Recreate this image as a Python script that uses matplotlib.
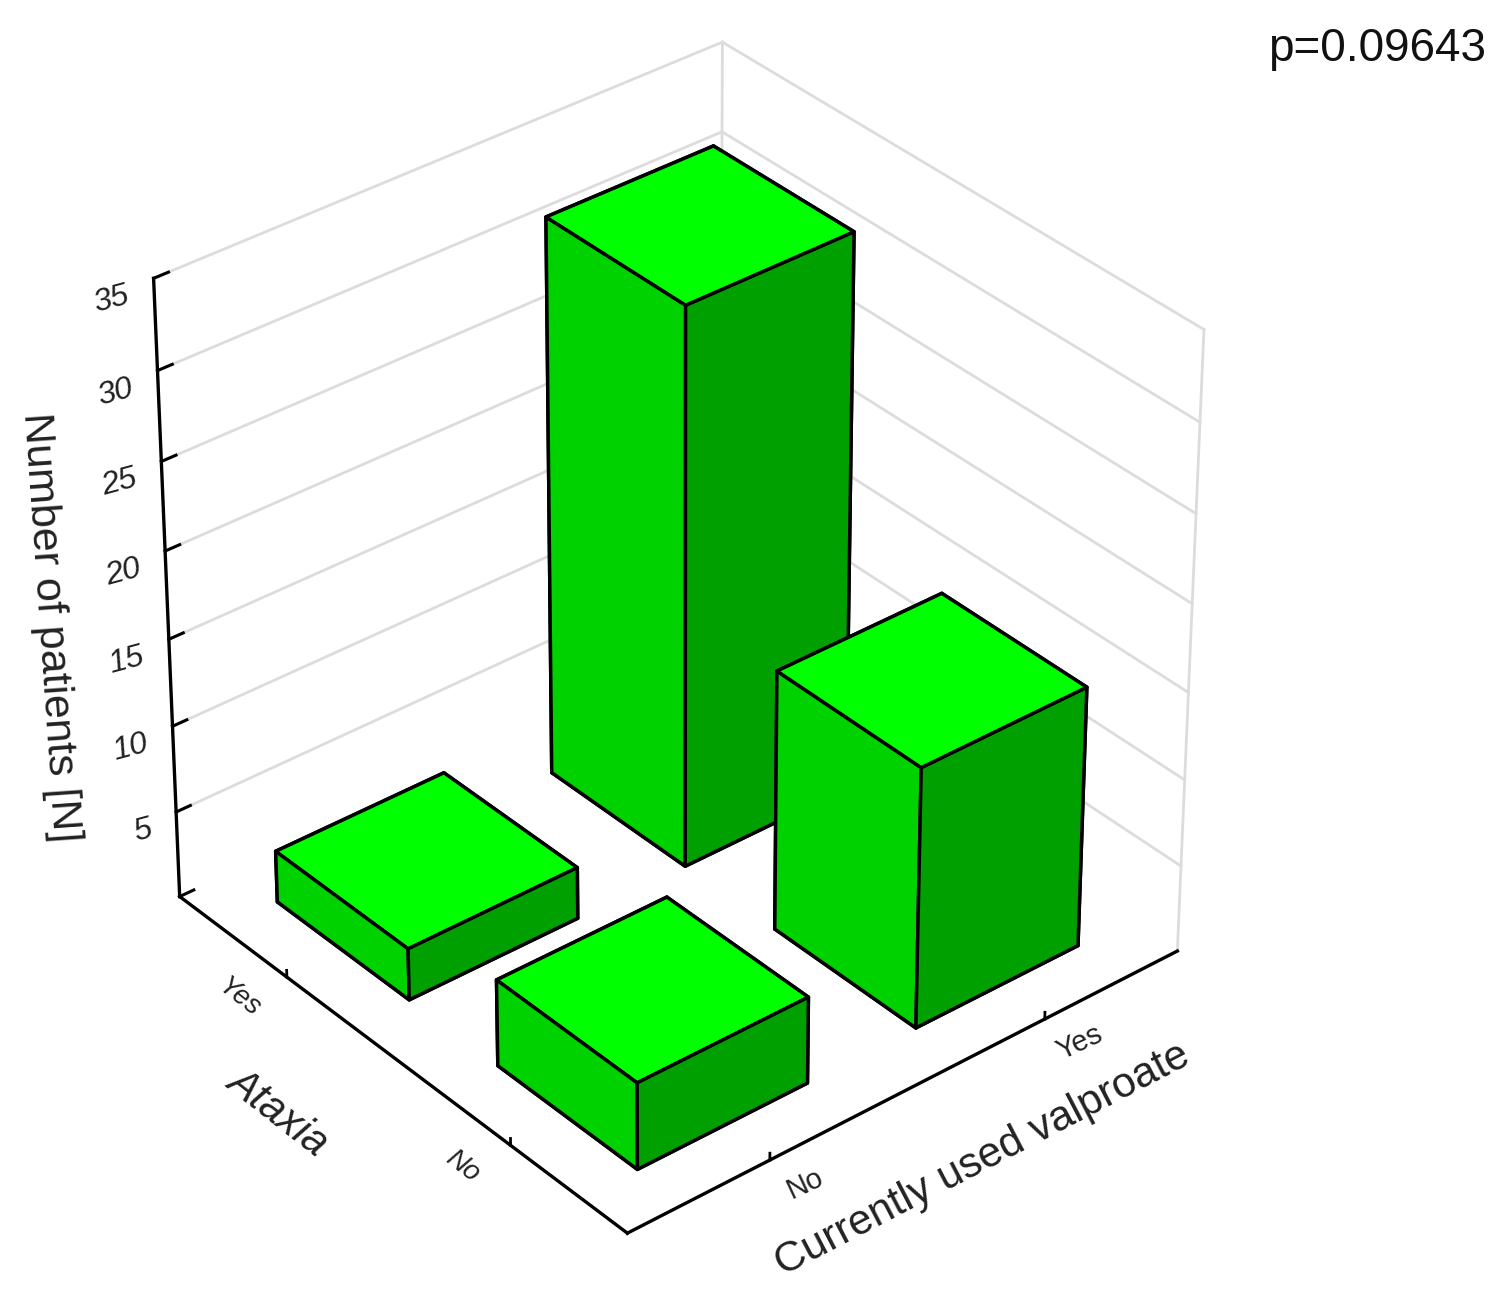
import matplotlib

matplotlib.use("Agg")
import matplotlib.pyplot as plt
from mpl_toolkits.mplot3d import proj3d

plt.rcParams["font.family"] = ["Liberation Sans", "DejaVu Sans"]

valproate_labels = ["No", "Yes"]
ataxia_labels = ["No", "Yes"]
z_ticks = [5, 10, 15, 20, 25, 30, 35]

# patients per ataxia category (No, Yes)
counts_no_valproate = [5, 3]
counts_valproate = [15, 32]

TOP = "#00ff00"
LEFT = "#00d200"
RIGHT = "#00a000"
GRID = "#dcdcdc"
TEXT = "#222222"

Z_MAX = 35
BAR_W = 0.605

fig = plt.figure(figsize=(15.07, 13.02), dpi=100, facecolor="white")
ax = fig.add_axes([-0.063, 0.009, 1.0, 1.0], projection="3d", computed_zorder=False)
ax.set_proj_type("persp", focal_length=1.15)
ax.view_init(elev=33.9, azim=-129.7)
ax.set_xlim(0, 2, view_margin=0)
ax.set_ylim(0, 2, view_margin=0)
ax.set_zlim(0, Z_MAX, view_margin=0)
ax.set_box_aspect((1, 1, 1.027), zoom=0.947)
ax.set_axis_off()

# back walls
for z in z_ticks:
    ax.plot([0, 2], [2, 2], [z, z], color=GRID, lw=2, zorder=0)
    ax.plot([2, 2], [2, 0], [z, z], color=GRID, lw=2, zorder=0)
ax.plot([2, 2], [2, 2], [0, Z_MAX], color=GRID, lw=2, zorder=0)
ax.plot([2, 2], [0, 0], [0, Z_MAX], color=GRID, lw=2, zorder=0)

# black axes
ax.plot([0, 2], [0, 0], [0, 0], color="black", lw=2.4, zorder=1)
ax.plot([0, 0], [0, 2], [0, 0], color="black", lw=2.4, zorder=1)
ax.plot([0, 0], [2, 2], [0, Z_MAX], color="black", lw=2.4, zorder=1)
for z in [0] + z_ticks:
    ax.plot([0, 0.05], [2, 2], [z, z], color="black", lw=2.2, zorder=1)
for i in range(2):
    ax.plot([i + 0.5, i + 0.5], [0, 0], [0, 0.4], color="black", lw=2, zorder=1)
    ax.plot([0, 0], [i + 0.5, i + 0.5], [0, 0.4], color="black", lw=2, zorder=1)


def draw_bar(i, j, height, order):
    x = i + 0.5 - BAR_W / 2
    y = j + 0.5 - BAR_W / 2
    # bar3d face order: -z, +z, -y, +y, -x, +x
    ax.bar3d(
        x, y, 0, BAR_W, BAR_W, height,
        color=[LEFT, TOP, RIGHT, LEFT, LEFT, LEFT],
        edgecolor="black",
        linewidth=2.5,
        shade=False,
        zorder=order,
    )


def label_at(x, y, z, text, offset, **kwargs):
    px, py, _ = proj3d.proj_transform(x, y, z, ax.get_proj())
    ax.annotate(
        text,
        xy=(px, py),
        xytext=offset,
        textcoords="offset pixels",
        annotation_clip=False,
        color=TEXT,
        rotation_mode="anchor",
        **kwargs,
    )


# back to front so nearer bars cover farther ones
draw_bar(1, 1, counts_valproate[1], 2)
draw_bar(1, 0, counts_valproate[0], 3)
draw_bar(0, 1, counts_no_valproate[1], 4)
draw_bar(0, 0, counts_no_valproate[0], 5)

for z in z_ticks:
    label_at(0, 2, z, str(z), (-25, -17), fontsize=23, style="italic", rotation=15,
             ha="right", va="center")
for i, label in enumerate(valproate_labels):
    label_at(i + 0.5, 0, 0, label, (35, -24), fontsize=21, rotation=25,
             ha="center", va="center")
for j, label in enumerate(ataxia_labels):
    label_at(0, j + 0.5, 0, label, (-48, -21), fontsize=20, style="italic", rotation=-38,
             ha="center", va="center")

fig.text(0.033, 0.518, "Number of patients [N]", fontsize=31, rotation=-86, color=TEXT,
         ha="center", va="center")
fig.text(0.184, 0.146, "Ataxia", fontsize=30, style="italic", rotation=-38, color=TEXT,
         ha="center", va="center")
fig.text(0.652, 0.109, "Currently used valproate", fontsize=30.5, rotation=27.5, color=TEXT,
         ha="center", va="center")
fig.text(0.986, 0.962, "p=0.09643", fontsize=33, color="#111111", ha="right", va="center")

fig.savefig("out.png", dpi=100, facecolor="white")
